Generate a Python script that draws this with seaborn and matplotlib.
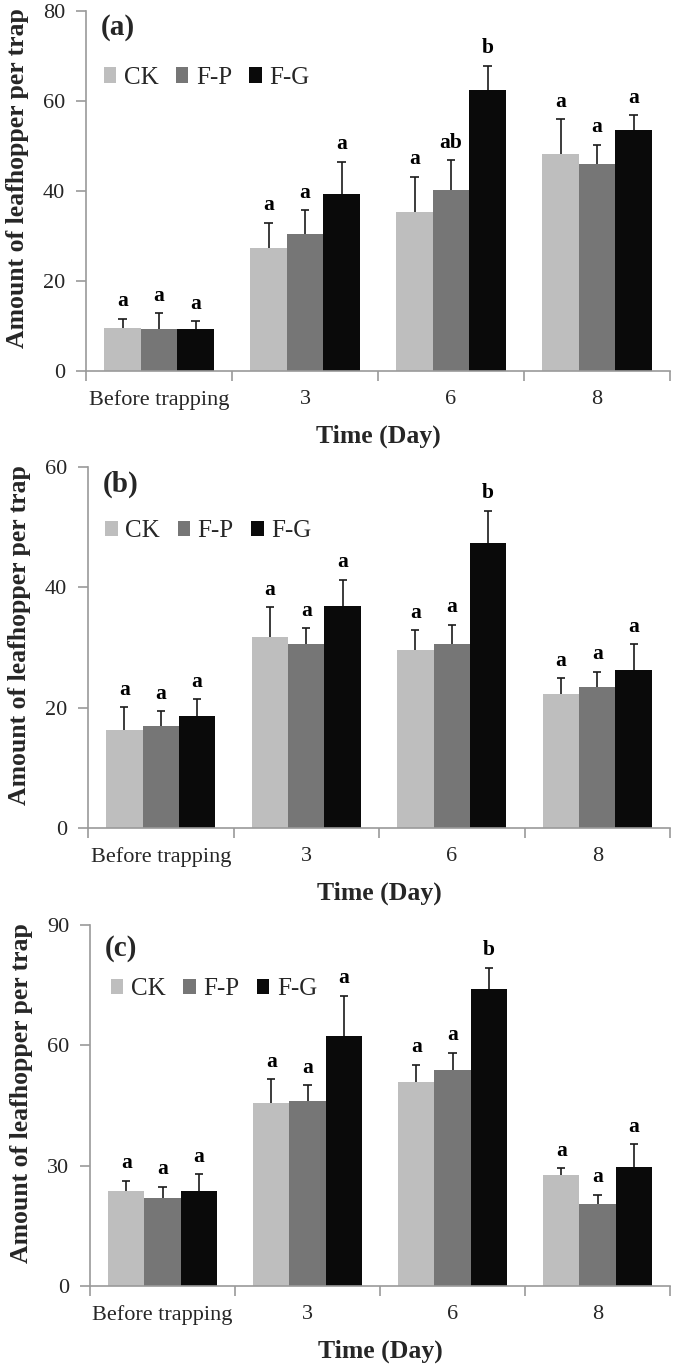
import numpy as np
import pandas as pd
import matplotlib
matplotlib.use("Agg")
import matplotlib.pyplot as plt
import seaborn as sns
from matplotlib.ticker import FixedLocator

# ---------------- data ----------------
times = ["Before trapping", "3", "6", "8"]
treatments = ["CK", "F-P", "F-G"]

a_ck = [9.6, 27.4, 35.4, 48.3]
a_fp = [9.4, 30.4, 40.3, 46.1]
a_fg = [9.3, 39.4, 62.4, 53.5]
a_ck_err = [2.0, 5.6, 7.8, 7.6]
a_fp_err = [3.4, 5.3, 6.5, 4.2]
a_fg_err = [1.8, 7.1, 5.4, 3.3]
a_ck_let = ["a", "a", "a", "a"]
a_fp_let = ["a", "a", "ab", "a"]
a_fg_let = ["a", "a", "b", "a"]

b_ck = [16.3, 31.7, 29.6, 22.2]
b_fp = [16.9, 30.6, 30.6, 23.4]
b_fg = [18.6, 36.9, 47.4, 26.2]
b_ck_err = [3.8, 5.0, 3.3, 2.7]
b_fp_err = [2.5, 2.6, 3.2, 2.6]
b_fg_err = [2.8, 4.4, 5.3, 4.3]
b_ck_let = ["a", "a", "a", "a"]
b_fp_let = ["a", "a", "a", "a"]
b_fg_let = ["a", "a", "b", "a"]

c_ck = [23.6, 45.6, 50.8, 27.7]
c_fp = [21.9, 46.0, 53.8, 20.4]
c_fg = [23.6, 62.3, 74.0, 29.7]
c_ck_err = [2.7, 6.0, 4.4, 1.7]
c_fp_err = [2.8, 4.0, 4.3, 2.4]
c_fg_err = [4.3, 10.0, 5.4, 5.6]
c_ck_let = ["a", "a", "a", "a"]
c_fp_let = ["a", "a", "a", "a"]
c_fg_let = ["a", "a", "b", "a"]

panel_labels = ["(a)", "(b)", "(c)"]
y_limits = [80, 60, 90]
y_ticks = [[0, 20, 40, 60, 80], [0, 20, 40, 60], [0, 30, 60, 90]]
colors = ["#BEBEBE", "#767676", "#0A0A0A"]

panels = [
    ([a_ck, a_fp, a_fg], [a_ck_err, a_fp_err, a_fg_err], [a_ck_let, a_fp_let, a_fg_let]),
    ([b_ck, b_fp, b_fg], [b_ck_err, b_fp_err, b_fg_err], [b_ck_let, b_fp_let, b_fg_let]),
    ([c_ck, c_fp, c_fg], [c_ck_err, c_fp_err, c_fg_err], [c_ck_let, c_fp_let, c_fg_let]),
]

# ---------------- style ----------------
sns.set_theme(style="white")
plt.rcParams["font.family"] = ["Liberation Serif", "DejaVu Serif"]
plt.rcParams["axes.edgecolor"] = "#9a9a9a"
plt.rcParams["axes.linewidth"] = 1.2

W, H = 675, 1366
fig = plt.figure(figsize=(W / 100, H / 100), dpi=100)

# axes boxes in pixels: left, top, right, bottom
boxes = [(86, 11, 670, 371), (88, 467, 670, 828), (90, 925, 670, 1286)]
legend_pos = [(0.030, 0.815), (0.030, 0.822), (0.036, 0.822)]
label_pos = [0.955, 0.953, 0.936]

for i, (vals, errs, lets) in enumerate(panels):
    l, t, r, b = boxes[i]
    ax = fig.add_axes([l / W, 1 - b / H, (r - l) / W, (b - t) / H])

    df = pd.DataFrame({
        "Time": np.tile(times, len(treatments)),
        "Treatment": np.repeat(treatments, len(times)),
        "value": np.concatenate(vals),
    })
    sns.barplot(data=df, x="Time", y="value", hue="Treatment", order=times,
                hue_order=treatments, palette=colors, saturation=1,
                width=0.75, errorbar=None, ax=ax, linewidth=0)

    # error bars (upper only) and letters
    for cont, e_list, l_list in zip(ax.containers, errs, lets):
        for bar, e, let in zip(cont.patches, e_list, l_list):
            xc = bar.get_x() + bar.get_width() / 2
            h = bar.get_height()
            ax.vlines(xc, h, h + e, color="#1a1a1a", lw=1.2, zorder=3)
            ax.hlines(h + e, xc - 0.028, xc + 0.028, color="#1a1a1a", lw=1.2, zorder=3)
            ax.annotate(let, (xc, h + e), xytext=(0, 9), textcoords="offset points",
                        ha="center", va="baseline", fontsize=15.5, fontweight="bold",
                        color="black")

    ax.set_xlim(-0.5, 3.5)
    ax.set_ylim(0, y_limits[i])
    ax.set_yticks(y_ticks[i])
    ax.tick_params(axis="y", direction="out", length=7, width=1.2, color="#9a9a9a",
                   labelsize=16, pad=8, left=True)
    ax.tick_params(axis="x", which="major", length=0, labelsize=16, pad=14)
    ax.xaxis.set_minor_locator(FixedLocator([-0.5, 0.5, 1.5, 2.5, 3.5]))
    ax.tick_params(axis="x", which="minor", direction="out", length=7, width=1.2,
                   color="#9a9a9a", bottom=True)
    for s in ["top", "right"]:
        ax.spines[s].set_visible(False)

    ax.set_xlabel("Time (Day)", fontsize=18.5, fontweight="bold", labelpad=10)
    ax.set_ylabel("Amount of leafhopper per trap", fontsize=18.5, fontweight="bold",
                  va="center")
    ax.yaxis.set_label_coords(-0.118, 0.535)

    ax.text(0.025, label_pos[i], panel_labels[i], transform=ax.transAxes,
            fontsize=21, fontweight="bold", ha="left", va="center")

    sns.move_legend(ax, "center left", bbox_to_anchor=legend_pos[i], ncol=3,
                    frameon=False, title=None, fontsize=18, borderpad=0,
                    borderaxespad=0, handlelength=0.5, handleheight=0.6,
                    handletextpad=0.3, columnspacing=0.7)

fig.savefig("out.png", dpi=100)
